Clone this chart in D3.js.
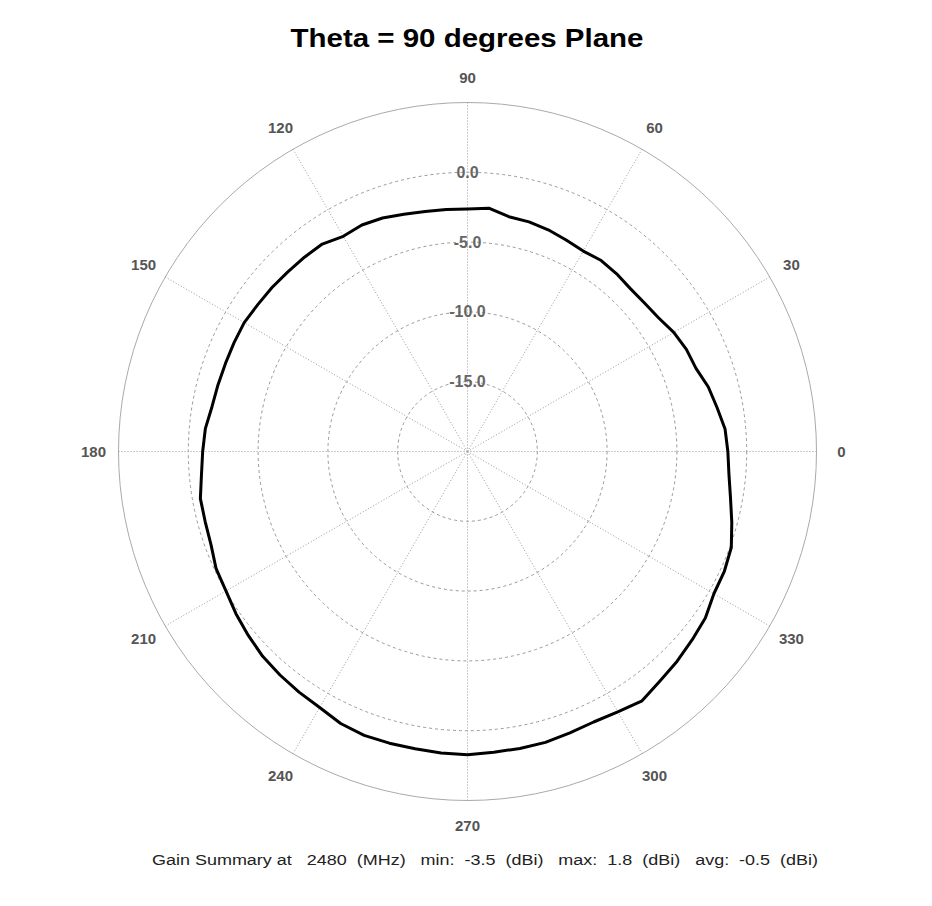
<!DOCTYPE html>
<html lang="en">
<head>
    <meta charset="UTF-8">
    <script src="https://d3js.org/d3.v7.min.js"></script>
    <style>
        body { margin: 0; background: #fff; }
        text { font-family: "Liberation Sans", Arial, sans-serif; }
    </style>
</head>
<body>
    <svg width="932" height="906"></svg>

    <script>
        // gain (dBi), every 5 degrees, counter-clockwise from 0
        let angles = d3.range(0, 360, 5);
        let gain = [
            -1.35, -1.48, -1.85, -2.14, -2.58, -2.7, -2.94, -3.3, -3.45, -3.5,
            -3.38, -3.3, -3.42, -3.28, -3.1, -2.97, -2.92, -2.5, -2.63, -2.6,
            -2.55, -2.4, -2.2, -2.1, -2.2, -1.86, -1.83, -1.8, -1.72, -1.66,
            -1.53, -1.55, -1.55, -1.5, -1.42, -1.15, -1.03, -0.87, -0.57, -0.55,
            -0.45, -0.13, -0.02, 0.25, 0.5, 0.75, 0.9, 1.04, 1.18, 1.5,
            1.64, 1.63, 1.62, 1.68, 1.72, 1.62, 1.6, 1.57, 1.45, 1.38,
            1.53, 1.8, 1.45, 1.24, 1.0, 0.8, 0.38, 0.3, 0.11, -0.4,
            -0.87, -1.2
        ];
        let ringValues = [-15, -10, -5, 0];
        let spokeAngles = d3.range(0, 360, 30);
        let title = "Theta = 90 degrees Plane";
        let summary = "Gain Summary at   2480  (MHz)   min:  -3.5  (dBi)   max:  1.8  (dBi)   avg:  -0.5  (dBi)";

        let svg = d3.select("svg");
        let cx = 467.5, cy = 451.5, R = 349;

        let r = d3.scaleLinear().domain([-20, 5]).range([0, R]);
        let g = svg.append("g").attr("transform", "translate(" + cx + "," + cy + ")");

        // outer boundary
        g.append("circle").attr("r", r(5))
            .attr("fill", "none").attr("stroke", "#aaa").attr("stroke-width", 1);

        // spokes
        g.selectAll(".spoke").data(spokeAngles).enter().append("line")
            .attr("x1", 0).attr("y1", 0)
            .attr("x2", d => r(5) * Math.cos(d * Math.PI / 180))
            .attr("y2", d => -r(5) * Math.sin(d * Math.PI / 180))
            .attr("stroke", "#999").attr("stroke-width", 1)
            .attr("stroke-dasharray", "1,2");

        // dashed gain rings
        g.selectAll(".ring").data(ringValues).enter().append("circle")
            .attr("r", d => r(d))
            .attr("fill", "none").attr("stroke", "#999").attr("stroke-width", 1)
            .attr("stroke-dasharray", "3,3");

        // gain curve
        let line = d3.lineRadial()
            .angle(d => Math.PI / 2 - d[0] * Math.PI / 180)
            .radius(d => r(d[1]))
            .curve(d3.curveLinearClosed);
        g.append("path")
            .datum(angles.map((a, i) => [a, gain[i]]))
            .attr("d", line)
            .attr("fill", "none").attr("stroke", "#000").attr("stroke-width", 3)
            .attr("stroke-linejoin", "round");

        // ring labels
        g.selectAll(".rlabel").data(ringValues).enter().append("text")
            .attr("x", 0).attr("y", d => -r(d))
            .attr("text-anchor", "middle").attr("dominant-baseline", "central")
            .attr("font-size", 16).attr("font-weight", "bold").attr("fill", "#666")
            .text(d => d.toFixed(1));

        // angle labels
        g.selectAll(".alabel").data(spokeAngles).enter().append("text")
            .attr("x", d => 374 * Math.cos(d * Math.PI / 180))
            .attr("y", d => -374 * Math.sin(d * Math.PI / 180))
            .attr("text-anchor", "middle").attr("dominant-baseline", "central")
            .attr("font-size", 15).attr("font-weight", "bold").attr("fill", "#555")
            .text(d => d);

        svg.append("text")
            .attr("x", 467).attr("y", 47)
            .attr("text-anchor", "middle")
            .attr("font-size", 26).attr("font-weight", "bold").attr("fill", "#000")
            .attr("textLength", 353).attr("lengthAdjust", "spacingAndGlyphs")
            .text(title);

        svg.append("text")
            .attr("x", 485).attr("y", 865)
            .attr("text-anchor", "middle")
            .attr("font-size", 14).attr("fill", "#222")
            .attr("textLength", 666).attr("lengthAdjust", "spacingAndGlyphs")
            .style("white-space", "pre")
            .text(summary);
    </script>
</body>
</html>
